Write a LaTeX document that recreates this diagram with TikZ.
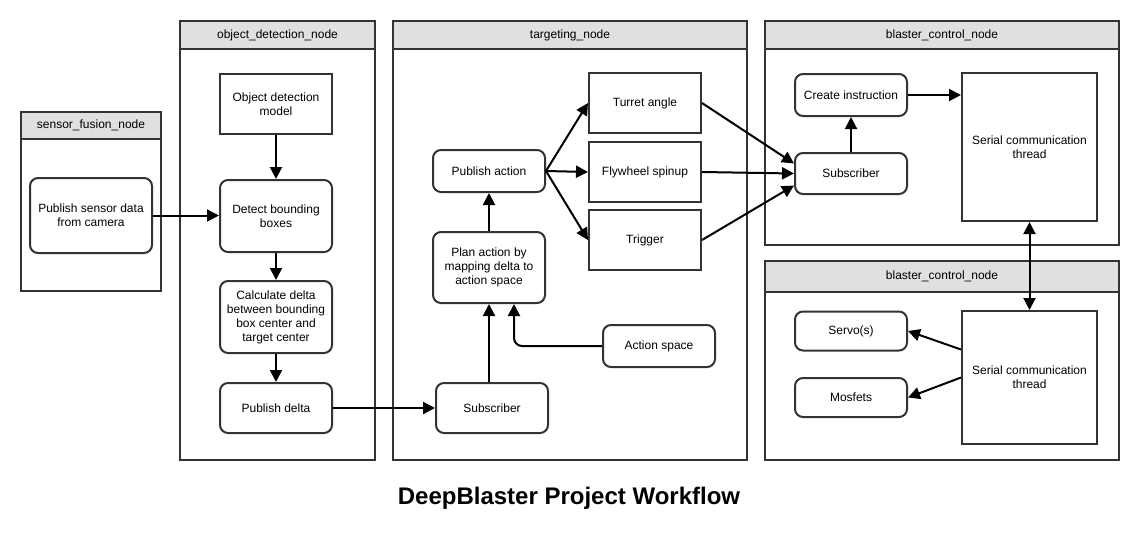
\documentclass[tikz,border=0pt]{standalone}
\usepackage{fontspec}
\setmainfont{Liberation Sans}
\usetikzlibrary{arrows.meta}
\definecolor{lineC}{HTML}{333333}
\definecolor{headC}{HTML}{E0E0E0}
\begin{document}
\begin{tikzpicture}[x=1pt,y=-1pt,
  font=\fontsize{12}{14}\selectfont,
  >={Triangle[length=12pt,width=12pt]},
  frame/.style={draw=lineC,line width=2.2pt},
  box/.style={draw=lineC,line width=2pt,align=center,minimum width=112pt,inner sep=2pt},
  rbox/.style={box,rounded corners=8pt},
  arr/.style={line width=2pt,->}]
\useasboundingbox (0,0) rectangle (1139,533);
\foreach \xl/\yt/\xr/\yb/\yh/\n/\lbl in {21/112/161/291/139/sensorfusion/sensor\_fusion\_node,
    180/21/375/460/49/objectdetection/object\_detection\_node,
    393/21/747/460/49/targeting/targeting\_node,
    765/21/1119/245/49/blasterA/blaster\_control\_node,
    765/261/1119/460/292/blasterB/blaster\_control\_node}
{
  \draw[frame,fill=headC] (\xl,\yt) rectangle (\xr,\yh);
  \draw[frame] (\xl,\yh) rectangle (\xr,\yb);
  \node (\n) at ({(\xl+\xr)/2},{(\yt+\yh)/2}) {\lbl};
}
\node[rbox,minimum width=122pt,minimum height=75pt] (pubsensor) at (91,215.5) {Publish sensor data\\from camera};
\node[box,minimum height=60pt] (model) at (276,104) {Object detection\\model};
\node[rbox,minimum height=72pt] (detect) at (276,216) {Detect bounding\\boxes};
\node[rbox,minimum height=72pt] (calc) at (276,317) {Calculate delta\\between bounding\\box center and\\target center};
\node[rbox,minimum height=50pt] (pubdelta) at (276,408) {Publish delta};
\node[rbox,minimum height=42pt] (pubaction) at (489,171) {Publish action};
\node[rbox,minimum height=71pt] (plan) at (489,267.5) {Plan action by\\mapping delta to\\action space};
\node[rbox,minimum height=50pt] (subtarget) at (492,408) {Subscriber};
\node[rbox,minimum height=42pt] (actspace) at (659,346) {Action space};
\node[box,minimum height=60pt] (turret) at (645,103) {Turret angle};
\node[box,minimum height=60pt] (flywheel) at (645,172) {Flywheel spinup};
\node[box,minimum height=60pt] (trigger) at (645,240) {Trigger};
\node[rbox,minimum height=42pt] (create) at (851,95) {Create instruction};
\node[rbox,minimum height=41pt] (subblaster) at (851,173.5) {Subscriber};
\node[box,minimum width=135pt,minimum height=148pt] (serialA) at (1029.5,147) {Serial communication\\thread};
\node[rbox,minimum height=39pt] (servo) at (851,331) {Servo(s)};
\node[rbox,minimum height=39pt] (mosfet) at (851,397.5) {Mosfets};
\node[box,minimum width=135pt,minimum height=133pt] (serialB) at (1029.5,377.5) {Serial communication\\thread};
\node[font=\fontsize{24}{28}\selectfont\bfseries] (title) at (569,498) {DeepBlaster Project Workflow};
% object detection
\draw[arr] (pubsensor.east) -- (pubsensor.east -| detect.west);
\draw[arr] (model) -- (detect);
\draw[arr] (detect) -- (calc);
\draw[arr] (calc) -- (pubdelta);
\draw[arr] (pubdelta) -- (subtarget);
% targeting
\draw[arr] (subtarget.north -| plan.south) -- (plan.south);
\draw[arr,rounded corners=8pt] (actspace.west) -| ([xshift=25pt]plan.south);
\draw[arr] (plan) -- (pubaction);
\foreach \n in {turret,flywheel,trigger}
  \draw[arr] (pubaction.east) -- (\n.west);
\draw[arr] (turret.east) -- ([yshift=10pt]subblaster.west);
\draw[arr] (flywheel.east) -- (subblaster.west);
\draw[arr] (trigger.east) -- ([yshift=-12pt]subblaster.west);
% blaster control
\draw[arr] (subblaster) -- (create);
\draw[arr] (create.east) -- (create.east -| serialA.west);
\draw[arr,<->] (serialA) -- (serialB);
\draw[arr] ([yshift=28pt]serialB.west) -- (servo.east);
\draw[arr] (serialB.west) -- (mosfet.east);
\end{tikzpicture}
\end{document}
